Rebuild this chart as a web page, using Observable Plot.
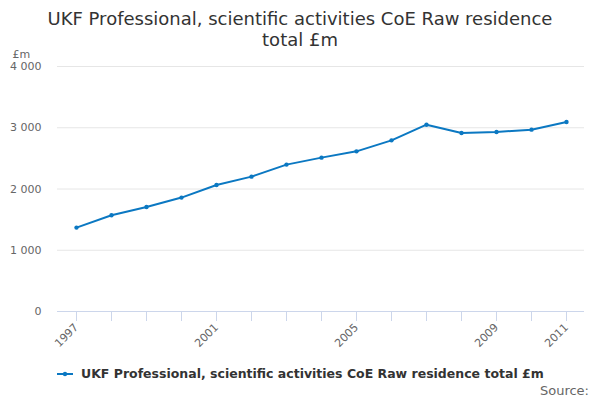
<!DOCTYPE html>
<html>
<head>
<meta charset="utf-8">
<script src="https://cdn.jsdelivr.net/npm/d3@7"></script>
<script src="https://cdn.jsdelivr.net/npm/@observablehq/plot@0.6"></script>
<style>
  html, body { margin: 0; padding: 0; background: #fff; }
  body { width: 600px; height: 400px; position: relative; overflow: hidden; font-family: "DejaVu Sans", sans-serif; }
  #title { position: absolute; top: 8px; left: 0; width: 600px; text-align: center; font-size: 18px; line-height: 21px; color: #333; }
  #chart { position: absolute; top: 45px; left: 0; }
  #legend { position: absolute; top: 366px; left: 57px; font-size: 12.5px; font-weight: bold; color: #333; display: flex; align-items: center; }
  #legend svg { margin-right: 8px; }
  #source { position: absolute; top: 383px; right: 11px; font-size: 13px; color: #666; }
</style>
</head>
<body>
<div id="title">UKF Professional, scientific activities CoE Raw residence<br>total £m</div>
<div id="chart"></div>
<div id="legend"></div>
<div id="source">Source:</div>
<script>
const years = [1997, 1998, 1999, 2000, 2001, 2002, 2003, 2004, 2005, 2006, 2007, 2008, 2009, 2010, 2011];
const values = [1370, 1571, 1706, 1860, 2065, 2202, 2398, 2512, 2615, 2794, 3050, 2914, 2930, 2969, 3093];
const labelledYears = [1997, 2001, 2005, 2009, 2011];
const yTicks = [0, 1000, 2000, 3000, 4000];
const seriesName = "UKF Professional, scientific activities CoE Raw residence total £m";
const unit = "£m";

const data = years.map((y, i) => ({year: y, value: values[i]}));
const color = "#0b78c2";
const fmt = v => d3.format(",")(v).replace(/,/g, " ");

const chart = Plot.plot({
  width: 600,
  height: 318,
  marginTop: 21,
  marginBottom: 52,
  marginLeft: 57,
  marginRight: 16,
  style: { fontFamily: "DejaVu Sans, sans-serif", fontSize: "11px", color: "#666", background: "transparent", overflow: "visible" },
  x: { type: "point", domain: years, padding: 0.5, label: null },
  y: { domain: [0, 4000], label: null },
  marks: [
    Plot.gridY(yTicks, { stroke: "#e6e6e6", strokeOpacity: 1 }),
    Plot.axisY(yTicks, { tickSize: 0, tickPadding: 16, tickFormat: fmt, fill: "#666", fontSize: 11, label: null }),
    Plot.ruleY([0], { stroke: "#ccd6eb" }),
    Plot.axisX(years, { tickSize: 10, stroke: "#ccd6eb", strokeOpacity: 1, tickRotate: -45, tickPadding: 4,
      tickFormat: d => labelledYears.includes(d) ? String(d) : "", fill: "#666", fontSize: 11, label: null }),
    Plot.line(data, { x: "year", y: "value", stroke: color, strokeWidth: 2 }),
    Plot.dot(data, { x: "year", y: "value", fill: color, r: 2.2 }),
    Plot.text([unit], { frameAnchor: "top-left", dx: -45, dy: -16, textAnchor: "start", fill: "#666", fontSize: 11 })
  ]
});
document.getElementById("chart").appendChild(chart);

const legend = document.getElementById("legend");
legend.innerHTML = `<svg width="16" height="10"><line x1="0" y1="5" x2="16" y2="5" stroke="${color}" stroke-width="2"/><circle cx="8" cy="5" r="2.2" fill="${color}"/></svg><span>${seriesName}</span>`;
</script>
</body>
</html>
